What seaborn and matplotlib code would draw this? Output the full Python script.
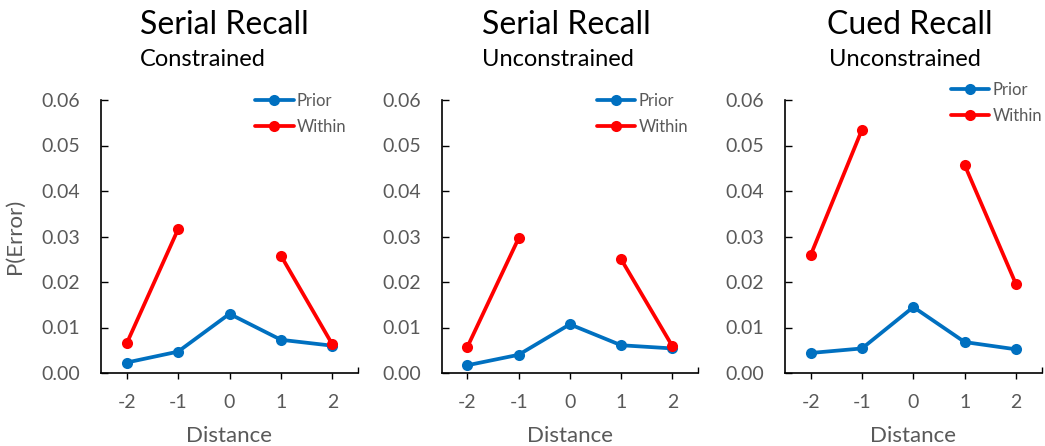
import numpy as np
import pandas as pd
import matplotlib
matplotlib.use("Agg")
import matplotlib.pyplot as plt
import seaborn as sns
from matplotlib.ticker import FormatStrFormatter

sns.set_style("white")
plt.rcParams['font.family'] = ['Lato', 'DejaVu Sans']

distance = [-2, -1, 0, 1, 2]
titles = ["Serial Recall", "Serial Recall", "Cued Recall"]
subtitles = ["Constrained", "Unconstrained", "Unconstrained"]

prior_sc = [0.0023, 0.0047, 0.0130, 0.0073, 0.0060]
within_sc = [0.0065, 0.0316, np.nan, 0.0258, 0.0063]
prior_su = [0.0017, 0.0040, 0.0107, 0.0061, 0.0054]
within_su = [0.0057, 0.0296, np.nan, 0.0250, 0.0059]
prior_cu = [0.0044, 0.0054, 0.0145, 0.0068, 0.0052]
within_cu = [0.0259, 0.0535, np.nan, 0.0457, 0.0195]

priors = [prior_sc, prior_su, prior_cu]
withins = [within_sc, within_su, within_cu]

palette = {"Prior": "#0070C0", "Within": "#FF0000"}
gray = "#595959"

W, H = 1045, 446
fig = plt.figure(figsize=(W / 100, H / 100), dpi=100)

axes_px = [(101, 358), (441.7, 698), (785, 1041.7)]
title_centers = [224, 566, 910]
sub_lefts = [140, 481.7, 829]
legend_anchor = [(0.60, 1.025), (0.605, 1.025), (0.645, 1.065)]

for i in range(3):
    x0, x1 = axes_px[i]
    ax = fig.add_axes([x0 / W, (H - 373) / H, (x1 - x0) / W, 273 / H])
    rows = []
    for d, v in zip(distance, priors[i]):
        rows.append(dict(Distance=d, P=v, Series="Prior", Seg=0))
    for d, v in zip(distance, withins[i]):
        if not np.isnan(v):
            rows.append(dict(Distance=d, P=v, Series="Within", Seg=1 if d < 0 else 2))
    df = pd.DataFrame(rows)
    sns.lineplot(data=df, x="Distance", y="P", hue="Series", units="Seg",
                 estimator=None, palette=palette, marker="o", markersize=8,
                 markeredgewidth=0, linewidth=2.7, ax=ax, sort=False)
    ax.set_xlim(-2.5, 2.5)
    ax.set_ylim(0, 0.06)
    ax.set_xticks(distance)
    ax.set_xticklabels([str(d) for d in distance])
    ax.set_xticks([2.5], minor=True)
    ax.set_yticks(np.arange(0, 0.061, 0.01))
    ax.yaxis.set_major_formatter(FormatStrFormatter("%.2f"))
    for s in ["top", "right"]:
        ax.spines[s].set_visible(False)
    for s in ["left", "bottom"]:
        ax.spines[s].set_color("black")
        ax.spines[s].set_linewidth(1.2)
    ax.tick_params(axis="x", which="major", direction="out", length=4, width=1,
                   color="black", bottom=True, labelsize=14, labelcolor=gray, pad=11)
    ax.tick_params(axis="x", which="minor", direction="in", length=4, width=1,
                   color="black", bottom=True)
    ax.tick_params(axis="y", which="major", direction="in", length=5, width=1,
                   color="black", left=True, labelsize=14, labelcolor=gray, pad=15)
    ax.set_xlabel("Distance", fontsize=16, color=gray, labelpad=11)
    if i == 0:
        ax.set_ylabel("P(Error)", fontsize=16, color=gray, labelpad=12)
    else:
        ax.set_ylabel("")
    ax.legend(loc="upper left", bbox_to_anchor=legend_anchor[i], frameon=False,
              fontsize=12, labelcolor=gray, handlelength=2.3, handletextpad=0.2,
              labelspacing=0.6, borderpad=0, borderaxespad=0)
    fig.text(title_centers[i] / W, 1 - 25 / H, titles[i], ha="center", va="center",
             fontsize=23, color="black")
    fig.text(sub_lefts[i] / W, 1 - 60 / H, subtitles[i], ha="left", va="center",
             fontsize=17, color="black")

fig.savefig("out.png", dpi=100)
